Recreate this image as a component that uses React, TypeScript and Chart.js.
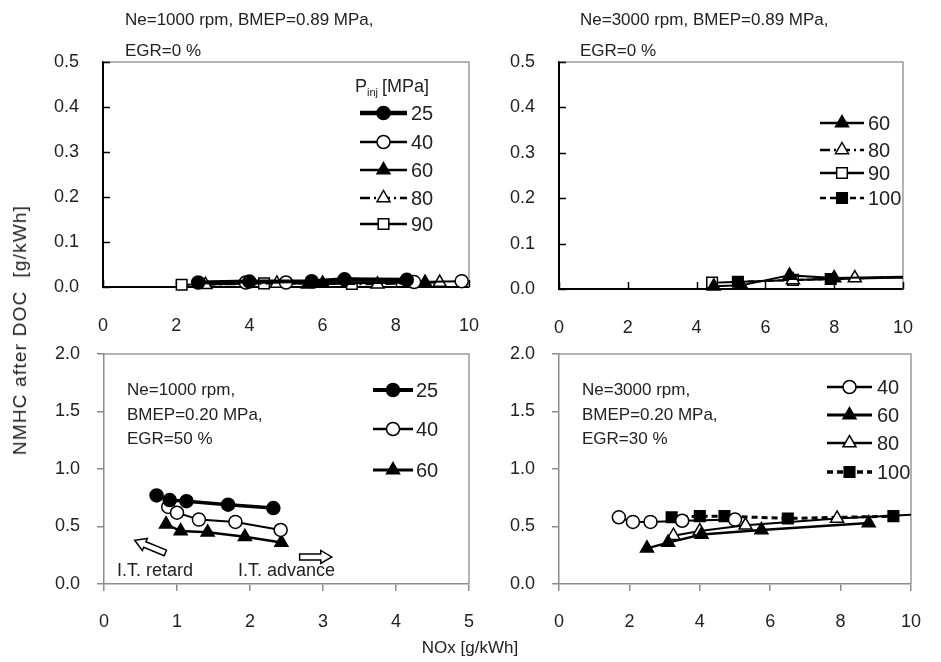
import React, { useEffect, useRef } from "react";
import { Chart, registerables } from "chart.js";
Chart.register(...registerables);

const W = 941;
const H = 662;
const FONT = "'Liberation Sans', Arial, sans-serif";

// ---------- tick values ----------
const xTicks10 = [0, 2, 4, 6, 8, 10];
const xTicks5 = [0, 1, 2, 3, 4, 5];
const topYTicks = [0, 0.1, 0.2, 0.3, 0.4, 0.5];
const bottomYTicks = [0, 0.5, 1.0, 1.5, 2.0];

// ---------- Top-left: Ne=1000 rpm, BMEP=0.89 MPa, EGR=0 % ----------
const tl25X = [2.6, 4.0, 5.7, 6.6, 8.3];
const tl25Y = [0.010, 0.012, 0.013, 0.017, 0.016];
const tl40X = [3.9, 5.0, 8.5, 9.8];
const tl40Y = [0.010, 0.010, 0.011, 0.013];
const tl60X = [5.6, 6.0, 8.8];
const tl60Y = [0.006, 0.008, 0.010];
const tl80X = [2.8, 4.75, 7.5, 9.2];
const tl80Y = [0.005, 0.008, 0.006, 0.010];
const tl90X = [2.15, 4.4, 6.8];
const tl90Y = [0.005, 0.008, 0.007];

// ---------- Top-right: Ne=3000 rpm, BMEP=0.89 MPa, EGR=0 % ----------
const tr60X = [4.5, 5.3, 6.7, 8.0, 10.5];
const tr60Y = [0.006, 0.008, 0.030, 0.024, 0.028];
const tr80X = [6.8, 8.6, 10.5];
const tr80Y = [0.020, 0.024, 0.026];
const tr90X = [4.45, 6.8, 10.5];
const tr90Y = [0.014, 0.020, 0.026];
const tr100X = [5.2, 7.9, 10.5];
const tr100Y = [0.016, 0.022, 0.027];

// ---------- Bottom-left: Ne=1000 rpm, BMEP=0.20 MPa, EGR=50 % ----------
const bl25X = [0.72, 0.9, 1.13, 1.7, 2.32];
const bl25Y = [0.77, 0.73, 0.72, 0.69, 0.66];
const bl40X = [0.88, 1.0, 1.3, 1.8, 2.42];
const bl40Y = [0.67, 0.62, 0.56, 0.54, 0.47];
const bl60X = [0.85, 1.05, 1.42, 1.93, 2.43];
const bl60Y = [0.52, 0.46, 0.45, 0.41, 0.36];

// ---------- Bottom-right: Ne=3000 rpm, BMEP=0.20 MPa, EGR=30 % ----------
const br40X = [1.7, 2.1, 2.6, 3.5, 5.0];
const br40Y = [0.58, 0.54, 0.54, 0.55, 0.56];
const br60X = [2.5, 3.1, 4.05, 5.75, 8.8];
const br60Y = [0.31, 0.36, 0.43, 0.47, 0.53];
const br80X = [3.25, 4.0, 5.3, 7.9, 10.6];
const br80Y = [0.42, 0.46, 0.51, 0.57, 0.61];
const br100X = [3.2, 4.0, 4.7, 6.5, 9.5];
const br100Y = [0.58, 0.59, 0.59, 0.57, 0.59];

type Marker = "circle" | "triangle" | "rect";
interface Series {
  label: string;
  xs: number[];
  ys: number[];
  marker: Marker;
  filled: boolean;
  lw: number;
  dash: number[];
}
interface Panel {
  area: { l: number; t: number; r: number; b: number };
  xMax: number;
  yMax: number;
  xTicks: number[];
  yTicks: number[];
  top: boolean;
  series: Series[];
  legend: { x1: number; x2: number; tx: number; ys: number[] };
  legendTitle?: boolean;
  arrows?: boolean;
}

const DASH_DOT = [10, 4, 2, 4];
const DASH = [6, 4];

const panels: Panel[] = [
  {
    area: { l: 103, t: 62, r: 469, b: 287 },
    xMax: 10, yMax: 0.5, xTicks: xTicks10, yTicks: topYTicks, top: true,
    series: [
      { label: "25", xs: tl25X, ys: tl25Y, marker: "circle", filled: true, lw: 4, dash: [] },
      { label: "40", xs: tl40X, ys: tl40Y, marker: "circle", filled: false, lw: 2, dash: [] },
      { label: "60", xs: tl60X, ys: tl60Y, marker: "triangle", filled: true, lw: 2, dash: [] },
      { label: "80", xs: tl80X, ys: tl80Y, marker: "triangle", filled: false, lw: 2, dash: DASH_DOT },
      { label: "90", xs: tl90X, ys: tl90Y, marker: "rect", filled: false, lw: 2, dash: [] },
    ],
    legend: { x1: 360, x2: 407, tx: 411, ys: [113, 142, 170, 198, 224] },
    legendTitle: true,
  },
  {
    area: { l: 559, t: 62, r: 924, b: 289 },
    xMax: 10, yMax: 0.5, xTicks: xTicks10, yTicks: topYTicks, top: true,
    series: [
      { label: "60", xs: tr60X, ys: tr60Y, marker: "triangle", filled: true, lw: 2, dash: [] },
      { label: "80", xs: tr80X, ys: tr80Y, marker: "triangle", filled: false, lw: 2, dash: DASH_DOT },
      { label: "90", xs: tr90X, ys: tr90Y, marker: "rect", filled: false, lw: 2, dash: [] },
      { label: "100", xs: tr100X, ys: tr100Y, marker: "rect", filled: true, lw: 2, dash: DASH },
    ],
    legend: { x1: 820, x2: 864, tx: 868, ys: [123, 150, 173, 198] },
  },
  {
    area: { l: 104, t: 354, r: 469, b: 584 },
    xMax: 5, yMax: 2, xTicks: xTicks5, yTicks: bottomYTicks, top: false,
    series: [
      { label: "25", xs: bl25X, ys: bl25Y, marker: "circle", filled: true, lw: 3.5, dash: [] },
      { label: "40", xs: bl40X, ys: bl40Y, marker: "circle", filled: false, lw: 2, dash: [] },
      { label: "60", xs: bl60X, ys: bl60Y, marker: "triangle", filled: true, lw: 2.5, dash: [] },
    ],
    legend: { x1: 373, x2: 413, tx: 416, ys: [390, 429, 470] },
    arrows: true,
  },
  {
    area: { l: 559, t: 354, r: 923, b: 584 },
    xMax: 10, yMax: 2, xTicks: xTicks10, yTicks: bottomYTicks, top: false,
    series: [
      { label: "40", xs: br40X, ys: br40Y, marker: "circle", filled: false, lw: 2, dash: [] },
      { label: "60", xs: br60X, ys: br60Y, marker: "triangle", filled: true, lw: 2.5, dash: [] },
      { label: "80", xs: br80X, ys: br80Y, marker: "triangle", filled: false, lw: 2, dash: [] },
      { label: "100", xs: br100X, ys: br100Y, marker: "rect", filled: true, lw: 3, dash: DASH },
    ],
    legend: { x1: 827, x2: 872, tx: 877, ys: [387, 415, 443, 472] },
  },
];

const RADIUS: Record<Marker, number> = { circle: 6.5, triangle: 7.5, rect: 7.5 };

function drawMarker(ctx: CanvasRenderingContext2D, m: Marker, x: number, y: number, filled: boolean) {
  const r = RADIUS[m];
  ctx.save();
  ctx.setLineDash([]);
  ctx.beginPath();
  if (m === "circle") {
    ctx.arc(x, y, r, 0, Math.PI * 2);
  } else if (m === "triangle") {
    ctx.moveTo(x, y - r);
    ctx.lineTo(x + r * 0.866, y + r * 0.5);
    ctx.lineTo(x - r * 0.866, y + r * 0.5);
    ctx.closePath();
  } else {
    const s = r * Math.SQRT1_2;
    ctx.rect(x - s, y - s, 2 * s, 2 * s);
  }
  ctx.fillStyle = filled ? "#000" : "#fff";
  ctx.fill();
  ctx.lineWidth = 1.5;
  ctx.strokeStyle = "#000";
  ctx.stroke();
  ctx.restore();
}

const YW = 60;
const XH = 60;

function buildConfig(p: Panel): any {
  const axisColor = p.top ? "#000" : "#8c8c8c";
  const tickFont = { family: FONT, size: 18 };
  const datasets = p.series.map((s) => ({
    label: s.label,
    data: s.xs.map((x, i) => ({ x, y: s.ys[i] })),
    showLine: true,
    borderColor: "#000",
    borderWidth: s.lw,
    borderDash: s.dash,
    pointStyle: s.marker,
    pointRadius: RADIUS[s.marker],
    pointBackgroundColor: s.filled ? "#000" : "#fff",
    pointBorderColor: "#000",
    pointBorderWidth: 1.5,
    clip: { left: 12, top: 12, right: 0, bottom: 12 },
  }));

  const deco = {
    id: "deco",
    beforeDatasetsDraw(chart: any) {
      const ctx: CanvasRenderingContext2D = chart.ctx;
      const a = chart.chartArea;
      ctx.save();
      ctx.strokeStyle = "#9a9a9a";
      ctx.lineWidth = 1.5;
      ctx.beginPath();
      ctx.moveTo(a.left, a.top);
      ctx.lineTo(a.right, a.top);
      ctx.lineTo(a.right, a.bottom);
      ctx.stroke();
      if (p.top) {
        ctx.strokeStyle = "#000";
        ctx.lineWidth = 1.5;
        const xs = chart.scales.x;
        const ys = chart.scales.y;
        p.xTicks.forEach((v) => {
          const px = Math.round(xs.getPixelForValue(v)) + 0.5;
          ctx.beginPath();
          ctx.moveTo(px, a.bottom);
          ctx.lineTo(px, a.bottom - 7);
          ctx.stroke();
        });
        p.yTicks.forEach((v) => {
          const py = Math.round(ys.getPixelForValue(v)) + 0.5;
          ctx.beginPath();
          ctx.moveTo(a.left, py);
          ctx.lineTo(a.left + 7, py);
          ctx.stroke();
        });
      }
      ctx.restore();
    },
    afterDraw(chart: any) {
      const ctx: CanvasRenderingContext2D = chart.ctx;
      ctx.save();
      // legend
      p.series.forEach((s, i) => {
        const y = p.legend.ys[i];
        ctx.strokeStyle = "#000";
        ctx.lineWidth = s.lw + 0.5;
        ctx.setLineDash(s.dash);
        ctx.beginPath();
        ctx.moveTo(p.legend.x1, y);
        ctx.lineTo(p.legend.x2, y);
        ctx.stroke();
        drawMarker(ctx, s.marker, (p.legend.x1 + p.legend.x2) / 2, y, s.filled);
        ctx.fillStyle = "#222";
        ctx.font = `20px ${FONT}`;
        ctx.textBaseline = "middle";
        ctx.textAlign = "left";
        ctx.fillText(s.label, p.legend.tx, y + 1);
      });
      if (p.legendTitle) {
        ctx.fillStyle = "#222";
        ctx.textBaseline = "alphabetic";
        ctx.font = `18px ${FONT}`;
        let x = 355;
        const by = 92;
        ctx.fillText("P", x, by);
        x += ctx.measureText("P").width;
        ctx.font = `11px ${FONT}`;
        ctx.fillText("inj", x, by + 4);
        x += ctx.measureText("inj").width + 4;
        ctx.font = `18px ${FONT}`;
        ctx.fillText("[MPa]", x, by);
      }
      if (p.arrows) {
        const xs = chart.scales.x;
        const ys = chart.scales.y;
        const drawArrow = (tx: number, ty: number, hx: number, hy: number) => {
          const x0 = xs.getPixelForValue(tx);
          const y0 = ys.getPixelForValue(ty);
          const x1 = xs.getPixelForValue(hx);
          const y1 = ys.getPixelForValue(hy);
          const ang = Math.atan2(y1 - y0, x1 - x0);
          const len = Math.hypot(x1 - x0, y1 - y0);
          ctx.save();
          ctx.translate(x0, y0);
          ctx.rotate(ang);
          const hl = 11;
          const sh = 3;
          const hh = 6.5;
          ctx.beginPath();
          ctx.moveTo(0, -sh);
          ctx.lineTo(len - hl, -sh);
          ctx.lineTo(len - hl, -hh);
          ctx.lineTo(len, 0);
          ctx.lineTo(len - hl, hh);
          ctx.lineTo(len - hl, sh);
          ctx.lineTo(0, sh);
          ctx.closePath();
          ctx.fillStyle = "#fff";
          ctx.fill();
          ctx.setLineDash([]);
          ctx.lineWidth = 1.5;
          ctx.strokeStyle = "#000";
          ctx.stroke();
          ctx.restore();
        };
        drawArrow(0.84, 0.27, 0.42, 0.38);
        drawArrow(2.68, 0.235, 3.12, 0.235);
      }
      ctx.restore();
    },
  };

  return {
    type: "scatter",
    data: { datasets },
    plugins: [deco],
    options: {
      animation: false,
      responsive: false,
      maintainAspectRatio: false,
      events: [],
      layout: {
        padding: {
          left: p.area.l - YW,
          top: p.area.t,
          right: W - p.area.r,
          bottom: H - p.area.b - XH,
        },
      },
      plugins: { legend: { display: false }, tooltip: { enabled: false } },
      scales: {
        x: {
          type: "linear",
          min: 0,
          max: p.xMax,
          afterBuildTicks: (s: any) => {
            s.ticks = p.xTicks.map((v) => ({ value: v }));
          },
          afterFit: (s: any) => {
            s.height = XH;
          },
          ticks: {
            font: tickFont,
            color: "#222",
            padding: p.top ? 28 : 20,
            maxRotation: 0,
            autoSkip: false,
            callback: (v: any) => String(v),
          },
          grid: {
            display: true,
            drawOnChartArea: false,
            drawTicks: !p.top,
            tickLength: 7,
            color: axisColor,
            lineWidth: 1.5,
          },
          border: { display: true, color: axisColor, width: p.top ? 2 : 1.5 },
        },
        y: {
          type: "linear",
          min: 0,
          max: p.yMax,
          afterBuildTicks: (s: any) => {
            s.ticks = p.yTicks.map((v) => ({ value: v }));
          },
          afterFit: (s: any) => {
            s.width = YW;
          },
          ticks: {
            font: tickFont,
            color: "#222",
            padding: p.top ? 24 : 17,
            autoSkip: false,
            callback: (v: any) => Number(v).toFixed(1),
          },
          grid: {
            display: true,
            drawOnChartArea: false,
            drawTicks: !p.top,
            tickLength: 7,
            color: axisColor,
            lineWidth: 1.5,
          },
          border: { display: true, color: axisColor, width: p.top ? 2 : 1.5 },
        },
      },
    },
  };
}

function PanelCanvas({ p }: { p: Panel }) {
  const ref = useRef<HTMLCanvasElement>(null);
  useEffect(() => {
    const chart = new Chart(ref.current as HTMLCanvasElement, buildConfig(p));
    return () => chart.destroy();
  }, [p]);
  return (
    <canvas
      ref={ref}
      width={W}
      height={H}
      style={{ position: "absolute", left: 0, top: 0, width: W, height: H }}
    />
  );
}

function Label({ x, y, text, size = 17 }: { x: number; y: number; text: string; size?: number }) {
  return (
    <div
      style={{
        position: "absolute",
        left: x,
        top: y - 11,
        height: 22,
        lineHeight: "22px",
        fontSize: size,
        fontFamily: FONT,
        color: "#222",
        whiteSpace: "pre",
      }}
    >
      {text}
    </div>
  );
}

export default function App() {
  return (
    <div style={{ position: "absolute", left: 0, top: 0, width: W, height: H, background: "#fff", overflow: "hidden" }}>
      {panels.map((p, i) => (
        <PanelCanvas key={i} p={p} />
      ))}
      <Label x={125} y={20} text="Ne=1000 rpm, BMEP=0.89 MPa," />
      <Label x={125} y={51} text="EGR=0 %" />
      <Label x={580} y={20} text="Ne=3000 rpm, BMEP=0.89 MPa," />
      <Label x={580} y={51} text="EGR=0 %" />
      <Label x={127} y={390} text="Ne=1000 rpm," />
      <Label x={127} y={415} text="BMEP=0.20 MPa," />
      <Label x={127} y={439} text="EGR=50 %" />
      <Label x={582} y={390} text="Ne=3000 rpm," />
      <Label x={582} y={415} text="BMEP=0.20 MPa," />
      <Label x={582} y={439} text="EGR=30 %" />
      <Label x={117} y={570} text="I.T. retard" size={18} />
      <Label x={238} y={570} text="I.T. advance" size={18} />
      <div
        style={{
          position: "absolute",
          left: 470,
          top: 648,
          transform: "translate(-50%, -50%)",
          fontSize: 17,
          fontFamily: FONT,
          color: "#222",
          whiteSpace: "pre",
        }}
      >
        NOx [g/kWh]
      </div>
      <div
        style={{
          position: "absolute",
          left: 20,
          top: 330,
          transform: "translate(-50%, -50%) rotate(-90deg)",
          fontSize: 19,
          letterSpacing: 1.2,
          fontFamily: FONT,
          color: "#222",
          whiteSpace: "pre",
        }}
      >
        {"NMHC after DOC  [g/kWh]"}
      </div>
    </div>
  );
}
